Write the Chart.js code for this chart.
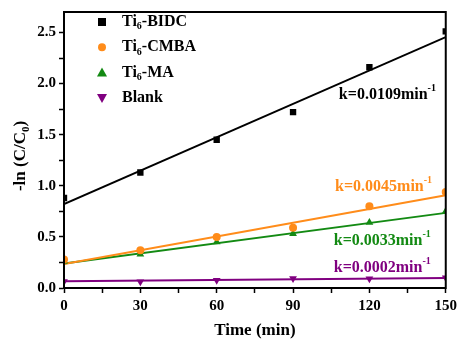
<!DOCTYPE html>
<html lang="en">
<head>
    <meta charset="UTF-8">
    <title>-ln(C/C0) vs time</title>
    <style>
        body {
            margin: 0;
            background-color: #ffffff;
        }
        .caixa {
            width: 461px;
            height: 345px;
            position: relative;
        }
    </style>
    <script src="https://cdn.jsdelivr.net/npm/chart.js"></script>
</head>
<body>
    <div class="caixa">
        <canvas id="grafico" width="461" height="345"></canvas>
    </div>
    <script>
        // dados
        const tempos = [0, 30, 60, 90, 120, 150];
        const bidc = [0.88, 1.13, 1.45, 1.72, 2.16, 2.51];
        const cmba = [0.28, 0.37, 0.50, 0.59, 0.80, 0.94];
        const ma = [0.26, 0.33, 0.45, 0.53, 0.64, 0.75];
        const blank = [0.064, 0.06, 0.077, 0.093, 0.09, 0.10];

        // retas de ajuste (valores nos extremos 0 e 150 min)
        const ajusteX = [0, 150];
        const ajusteBidc = [0.82, 2.455];
        const ajusteCmba = [0.235, 0.907];
        const ajusteMa = [0.24, 0.735];
        const ajusteBlank = [0.066, 0.097];

        const nomes = ['BIDC', 'CMBA', 'MA', 'Blank'];
        const cores = ['#000000', '#ff8c1a', '#138a13', '#800080'];
        const marcadores = ['rect', 'circle', 'triangle', 'triangle'];
        const constantes = ['k=0.0109min', 'k=0.0045min', 'k=0.0033min', 'k=0.0002min'];
        // posição (tempo, valor) do texto de cada constante
        const posK = [[108, 1.89], [106.5, 0.99], [106, 0.46], [106, 0.2]];

        const pontos = (ys) => ys.map((y, i) => ({ x: tempos[i], y: y }));
        const reta = (ys) => ys.map((y, i) => ({ x: ajusteX[i], y: y }));

        const series = [bidc, cmba, ma, blank];
        const ajustes = [ajusteBidc, ajusteCmba, ajusteMa, ajusteBlank];

        const datasets = [];
        series.forEach((s, i) => {
            datasets.push({
                label: nomes[i],
                data: pontos(s),
                showLine: false,
                pointStyle: marcadores[i],
                rotation: i === 3 ? 180 : 0,
                pointRadius: i === 1 ? 4 : 4.5,
                backgroundColor: cores[i],
                borderColor: cores[i],
                borderWidth: 0
            });
        });
        ajustes.forEach((a, i) => {
            datasets.push({
                label: 'ajuste ' + nomes[i],
                data: reta(a),
                showLine: true,
                pointRadius: 0,
                borderColor: cores[i],
                borderWidth: 2
            });
        });

        const fonteSerif = '"Liberation Serif", "Times New Roman", serif';

        // desenha texto com subscrito / sobrescrito
        function textoComIndice(ctx, partes, x, y, tam) {
            let cx = x;
            partes.forEach(p => {
                const t = p.tipo ? Math.round(tam * 0.65) : tam;
                ctx.font = 'bold ' + t + 'px ' + fonteSerif;
                const dy = p.tipo === 'sub' ? tam * 0.3 : (p.tipo === 'sup' ? -tam * 0.4 : 0);
                ctx.fillText(p.t, cx, y + dy);
                cx += ctx.measureText(p.t).width;
            });
        }

        const extras = {
            id: 'extras',
            afterDraw(chart) {
                const ctx = chart.ctx;
                const a = chart.chartArea;
                const sx = chart.scales.x, sy = chart.scales.y;
                ctx.save();
                // moldura
                ctx.strokeStyle = '#000';
                ctx.lineWidth = 2;
                ctx.strokeRect(a.left, a.top, a.right - a.left, a.bottom - a.top);

                ctx.textBaseline = 'middle';
                ctx.textAlign = 'left';
                // legenda
                series.forEach((s, i) => {
                    const yy = 22 + i * 25.3;
                    ctx.fillStyle = cores[i];
                    ctx.beginPath();
                    const mx = 102;
                    if (i === 0) ctx.fillRect(mx - 4, yy - 4, 8, 8);
                    else if (i === 1) { ctx.arc(mx, yy, 4, 0, Math.PI * 2); ctx.fill(); }
                    else if (i === 2) { ctx.moveTo(mx, yy - 5); ctx.lineTo(mx + 5, yy + 4); ctx.lineTo(mx - 5, yy + 4); ctx.fill(); }
                    else { ctx.moveTo(mx, yy + 5); ctx.lineTo(mx + 5, yy - 4); ctx.lineTo(mx - 5, yy - 4); ctx.fill(); }
                    ctx.fillStyle = '#000';
                    if (i < 3) textoComIndice(ctx, [{ t: 'Ti' }, { t: '6', tipo: 'sub' }, { t: '-' + nomes[i] }], 122, yy, 16);
                    else textoComIndice(ctx, [{ t: 'Blank' }], 122, yy, 16);
                });

                // constantes k
                constantes.forEach((k, i) => {
                    ctx.fillStyle = cores[i];
                    const px = sx.getPixelForValue(posK[i][0]);
                    const py = sy.getPixelForValue(posK[i][1]);
                    textoComIndice(ctx, [{ t: k }, { t: '-1', tipo: 'sup' }], px, py, 16);
                });

                // título do eixo x
                ctx.fillStyle = '#000';
                ctx.textAlign = 'center';
                ctx.font = 'bold 17px ' + fonteSerif;
                ctx.fillText('Time (min)', (a.left + a.right) / 2, 331);

                // título do eixo y
                ctx.translate(21, 156);
                ctx.rotate(-Math.PI / 2);
                ctx.textAlign = 'left';
                const partes = [{ t: '-ln (C/C' }, { t: '0', tipo: 'sub' }, { t: ')' }];
                let w = 0;
                partes.forEach(p => {
                    ctx.font = 'bold ' + (p.tipo ? 11 : 17) + 'px ' + fonteSerif;
                    w += ctx.measureText(p.t).width;
                });
                textoComIndice(ctx, partes, -w / 2, 0, 17);
                ctx.restore();
            }
        };

        new Chart(document.getElementById('grafico').getContext('2d'), {
            type: 'scatter',
            data: { datasets: datasets },
            plugins: [extras],
            options: {
                responsive: false,
                animation: false,
                layout: { padding: { left: 0, right: 14, top: 7, bottom: 0 } },
                plugins: {
                    legend: { display: false },
                    tooltip: { enabled: false }
                },
                scales: {
                    x: {
                        type: 'linear',
                        min: 0,
                        max: 150,
                        afterFit: (s) => { s.height = 57; },
                        border: { display: true, color: '#000', width: 2 },
                        grid: { drawOnChartArea: false, tickLength: 5, color: '#000', tickWidth: 1.5 },
                        ticks: {
                            stepSize: 15,
                            includeBounds: false,
                            autoSkip: false,
                            maxRotation: 0,
                            padding: 4,
                            color: '#000',
                            font: { family: fonteSerif, size: 15, weight: 'bold' },
                            callback: (v) => (v % 30 === 0 ? v : '')
                        }
                    },
                    y: {
                        type: 'linear',
                        min: 0,
                        max: 2.7,
                        afterFit: (s) => { s.width = 64; },
                        border: { display: true, color: '#000', width: 2 },
                        grid: { drawOnChartArea: false, tickLength: 5, color: '#000', tickWidth: 1.5 },
                        ticks: {
                            stepSize: 0.25,
                            includeBounds: false,
                            autoSkip: false,
                            padding: 3,
                            color: '#000',
                            font: { family: fonteSerif, size: 15, weight: 'bold' },
                            callback: (v) => (Math.abs(v * 2 - Math.round(v * 2)) < 1e-6 ? v.toFixed(1) : '')
                        }
                    }
                }
            }
        });
    </script>
</body>
</html>
